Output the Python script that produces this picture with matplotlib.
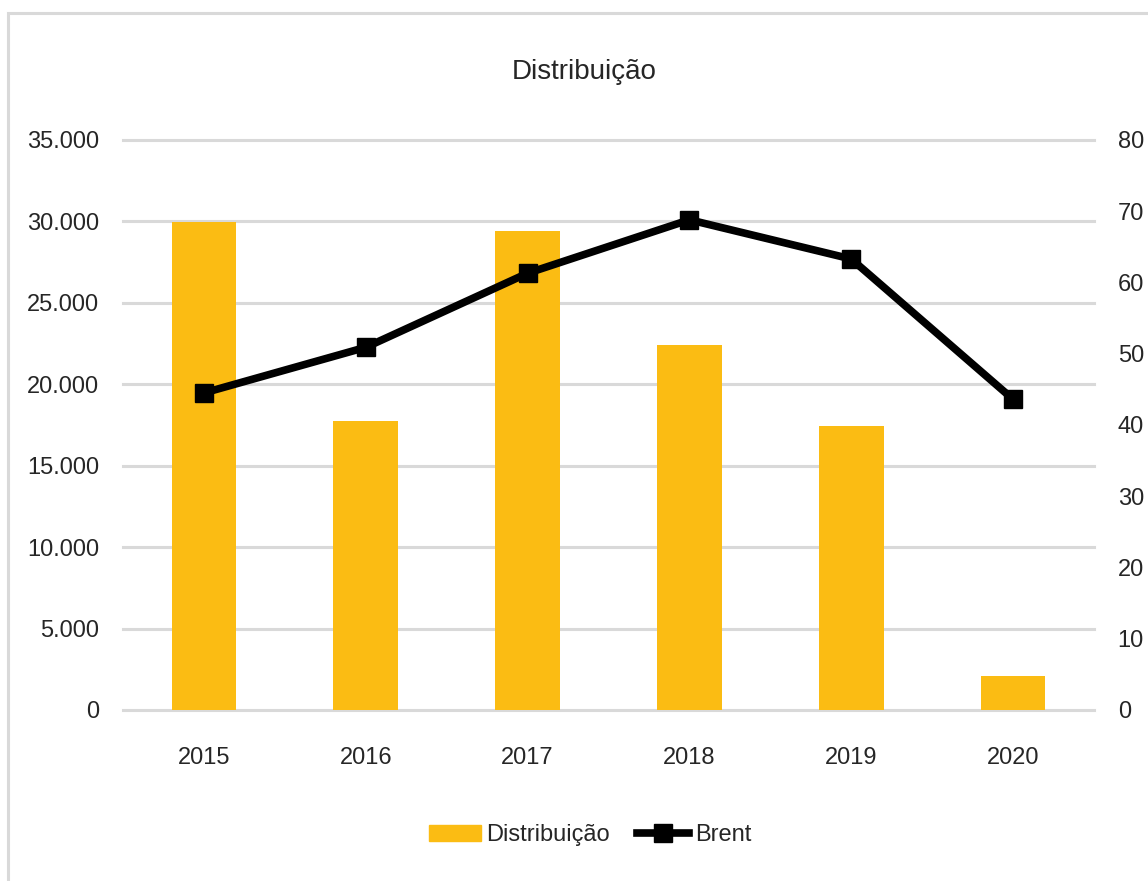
import matplotlib.pyplot as plt
from matplotlib.patches import Rectangle
from matplotlib.lines import Line2D
from matplotlib.patches import Patch
import numpy as np

# Dados
anos = ["2015", "2016", "2017", "2018", "2019", "2020"]
distribuicao = [29950, 17750, 29420, 22420, 17450, 2100]
brent = [44.5, 50.9, 61.3, 68.8, 63.3, 43.6]

plt.rcParams["font.family"] = ["Liberation Sans", "DejaVu Sans"]

amarelo = "#FBBC13"
cinza = "#D9D9D9"
texto = "#262626"

fig = plt.figure(figsize=(11.48, 8.81), dpi=100)
ax = fig.add_axes([0.1071, 0.1941, 0.8459, 0.6470])

x = np.arange(len(anos))
ax.bar(x, distribuicao, width=0.40, color=amarelo, zorder=2)
ax.set_xlim(-0.5, len(anos) - 0.5)
ax.set_ylim(0, 35000)
ax.set_yticks(np.arange(0, 35001, 5000))
ax.set_yticklabels([f"{v:,.0f}".replace(",", ".") for v in np.arange(0, 35001, 5000)])
ax.set_xticks(x)
ax.set_xticklabels(anos)
ax.yaxis.grid(True, color=cinza, linewidth=2.2, zorder=0)
ax.set_axisbelow(True)
for line in ax.get_ygridlines():
    line.set_clip_on(False)
for s in ax.spines.values():
    s.set_visible(False)
ax.tick_params(axis="y", length=0, pad=17, labelsize=17, labelcolor=texto)
ax.tick_params(axis="x", length=0, pad=27, labelsize=17, labelcolor=texto)

ax2 = ax.twinx()
ax2.plot(x, brent, color="black", linewidth=5.5, marker="s", markersize=13, zorder=3)
ax2.set_ylim(0, 80)
ax2.set_yticks(np.arange(0, 81, 10))
for s in ax2.spines.values():
    s.set_visible(False)
ax2.tick_params(axis="y", length=0, pad=17, labelsize=17, labelcolor=texto)

fig.text(0.509, 0.918, "Distribuição", ha="center", va="center", fontsize=20, color=texto)

handles = [Patch(color=amarelo, label="Distribuição"),
           Line2D([0], [0], color="black", linewidth=5.5, marker="s", markersize=13, label="Brent")]
fig.legend(handles=handles, loc="center", bbox_to_anchor=(0.514, 0.052), ncol=2, frameon=False,
           fontsize=17, handlelength=2.2, handletextpad=0.25, columnspacing=1.15, labelcolor=texto)

# moldura do gráfico
fig.patches.append(Rectangle((8 / 1148, -0.05), 1.2, 1 - 13 / 881 + 0.05, transform=fig.transFigure,
                             fill=False, edgecolor=cinza, linewidth=2.2))

fig.savefig("out.png", dpi=100)
